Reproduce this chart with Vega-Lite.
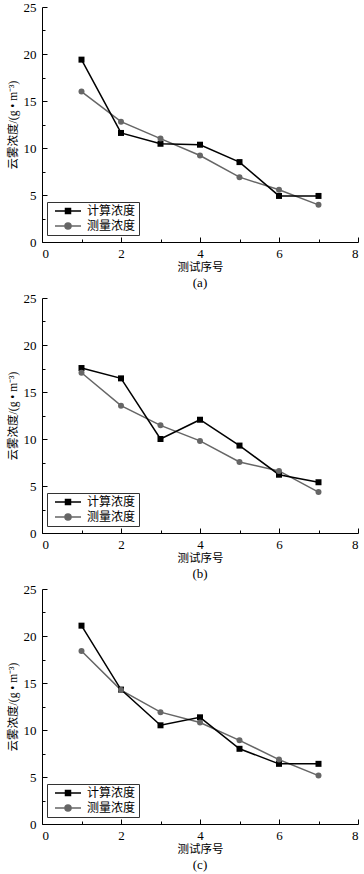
{
  "$schema": "https://vega.github.io/schema/vega-lite/v6.json",
  "background": "white",
  "padding": {"left": 7, "top": 1, "right": 0, "bottom": 0},
  "spacing": 2,
  "config": {
    "view": {"stroke": null},
    "font": "Liberation Serif",
    "axis": {
      "grid": false,
      "domainColor": "#000",
      "domainWidth": 1,
      "tickColor": "#000",
      "labelFont": "Liberation Serif",
      "labelFontSize": 13,
      "labelColor": "#000",
      "titleFont": "Liberation Serif, Noto Sans CJK SC",
      "titleFontSize": 11.5,
      "titleFontWeight": "normal",
      "titleColor": "#000"
    },
    "axisX": {"labelPadding": 10, "titlePadding": 1},
    "axisY": {"labelPadding": 11, "titlePadding": 5},
    "title": {"font": "Liberation Serif", "fontSize": 13, "fontWeight": "normal", "color": "#000", "orient": "bottom", "offset": 4},
    "legend": {
      "orient": "none",
      "legendX": 5,
      "legendY": 195,
      "strokeColor": "#333",
      "padding": 3,
      "labelFont": "Liberation Serif, Noto Sans CJK SC",
      "labelFontSize": 12,
      "labelColor": "#000",
      "labelOffset": 25,
      "symbolSize": 100,
      "rowPadding": 3,
      "symbolStrokeWidth": 1.5
    }
  },
  "datasets": {
    "a": [
      {"n": 1, "s": "测量浓度", "v": 16.0}, {"n": 2, "s": "测量浓度", "v": 12.8}, {"n": 3, "s": "测量浓度", "v": 11.0}, {"n": 4, "s": "测量浓度", "v": 9.2}, {"n": 5, "s": "测量浓度", "v": 6.9}, {"n": 6, "s": "测量浓度", "v": 5.55}, {"n": 7, "s": "测量浓度", "v": 3.95},
      {"n": 1, "s": "计算浓度", "v": 19.4}, {"n": 2, "s": "计算浓度", "v": 11.6}, {"n": 3, "s": "计算浓度", "v": 10.45}, {"n": 4, "s": "计算浓度", "v": 10.35}, {"n": 5, "s": "计算浓度", "v": 8.5}, {"n": 6, "s": "计算浓度", "v": 4.9}, {"n": 7, "s": "计算浓度", "v": 4.9}
    ],
    "b": [
      {"n": 1, "s": "测量浓度", "v": 17.05}, {"n": 2, "s": "测量浓度", "v": 13.55}, {"n": 3, "s": "测量浓度", "v": 11.45}, {"n": 4, "s": "测量浓度", "v": 9.8}, {"n": 5, "s": "测量浓度", "v": 7.55}, {"n": 6, "s": "测量浓度", "v": 6.6}, {"n": 7, "s": "测量浓度", "v": 4.35},
      {"n": 1, "s": "计算浓度", "v": 17.55}, {"n": 2, "s": "计算浓度", "v": 16.45}, {"n": 3, "s": "计算浓度", "v": 10.0}, {"n": 4, "s": "计算浓度", "v": 12.05}, {"n": 5, "s": "计算浓度", "v": 9.3}, {"n": 6, "s": "计算浓度", "v": 6.2}, {"n": 7, "s": "计算浓度", "v": 5.4}
    ],
    "c": [
      {"n": 1, "s": "测量浓度", "v": 18.4}, {"n": 2, "s": "测量浓度", "v": 14.25}, {"n": 3, "s": "测量浓度", "v": 11.9}, {"n": 4, "s": "测量浓度", "v": 10.8}, {"n": 5, "s": "测量浓度", "v": 8.9}, {"n": 6, "s": "测量浓度", "v": 6.85}, {"n": 7, "s": "测量浓度", "v": 5.15},
      {"n": 1, "s": "计算浓度", "v": 21.1}, {"n": 2, "s": "计算浓度", "v": 14.3}, {"n": 3, "s": "计算浓度", "v": 10.5}, {"n": 4, "s": "计算浓度", "v": 11.35}, {"n": 5, "s": "计算浓度", "v": 8.0}, {"n": 6, "s": "计算浓度", "v": 6.4}, {"n": 7, "s": "计算浓度", "v": 6.4}
    ]
  },
  "vconcat": [
    {
      "data": {"name": "a"},
      "width": 316, "height": 235,
      "title": {"text": "(a)"},
      "encoding": {
        "x": {"field": "n", "type": "quantitative", "scale": {"domain": [0, 8], "nice": false},
              "axis": {"title": "测试序号", "values": [0,1,2,3,4,5,6,7,8], "labelExpr": "datum.value % 2 === 0 ? datum.label : ''", "tickSize": {"condition": {"test": "datum.value % 2 === 0", "value": -5}, "value": -3}}},
        "y": {"field": "v", "type": "quantitative", "scale": {"domain": [0, 25], "nice": false},
              "axis": {"title": "云雾浓度/(g • m⁻³)", "values": [0,2.5,5,7.5,10,12.5,15,17.5,20,22.5,25], "labelExpr": "datum.value % 5 === 0 ? datum.label : ''", "tickSize": {"condition": {"test": "datum.value % 5 === 0", "value": -5}, "value": -3}}},
        "color": {"field": "s", "type": "nominal", "scale": {"domain": ["计算浓度", "测量浓度"], "range": ["#000000", "#666666"]},
                  "legend": {"title": null, "encode": {"symbols": {"update": {
                    "shape": {"signal": "datum.value === '计算浓度' ? 'M-0.2,0H5M1.9,-0.5H2.9V0.5H1.9Z' : 'M-0.2,0H5M3,0A0.6,0.6,0,1,1,1.8,0A0.6,0.6,0,1,1,3,0Z'"},
                    "size": {"value": 100},
                    "fill": {"signal": "datum.value === '计算浓度' ? '#000' : '#666'"},
                    "stroke": {"signal": "datum.value === '计算浓度' ? '#000' : '#777'"},
                    "strokeWidth": {"value": 1.5}, "opacity": {"value": 1}, "fillOpacity": {"value": 1}, "strokeOpacity": {"value": 1}}}}}}
      },
      "layer": [
        {"mark": {"type": "line", "strokeWidth": 1.5}, "encoding": {"detail": {"field": "s"}}},
        {"transform": [{"filter": "datum.s === '计算浓度'"}], "mark": {"type": "point", "shape": "square", "filled": true, "opacity": 1, "size": 36}},
        {"transform": [{"filter": "datum.s === '测量浓度'"}], "mark": {"type": "point", "shape": "circle", "filled": true, "opacity": 1, "size": 36}}
      ]
    },
    {
      "data": {"name": "b"},
      "width": 316, "height": 235,
      "title": {"text": "(b)"},
      "encoding": {
        "x": {"field": "n", "type": "quantitative", "scale": {"domain": [0, 8], "nice": false},
              "axis": {"title": "测试序号", "values": [0,1,2,3,4,5,6,7,8], "labelExpr": "datum.value % 2 === 0 ? datum.label : ''", "tickSize": {"condition": {"test": "datum.value % 2 === 0", "value": -5}, "value": -3}}},
        "y": {"field": "v", "type": "quantitative", "scale": {"domain": [0, 25], "nice": false},
              "axis": {"title": "云雾浓度/(g • m⁻³)", "values": [0,2.5,5,7.5,10,12.5,15,17.5,20,22.5,25], "labelExpr": "datum.value % 5 === 0 ? datum.label : ''", "tickSize": {"condition": {"test": "datum.value % 5 === 0", "value": -5}, "value": -3}}},
        "color": {"field": "s", "type": "nominal", "scale": {"domain": ["计算浓度", "测量浓度"], "range": ["#000000", "#666666"]},
                  "legend": {"title": null, "encode": {"symbols": {"update": {
                    "shape": {"signal": "datum.value === '计算浓度' ? 'M-0.2,0H5M1.9,-0.5H2.9V0.5H1.9Z' : 'M-0.2,0H5M3,0A0.6,0.6,0,1,1,1.8,0A0.6,0.6,0,1,1,3,0Z'"},
                    "size": {"value": 100},
                    "fill": {"signal": "datum.value === '计算浓度' ? '#000' : '#666'"},
                    "stroke": {"signal": "datum.value === '计算浓度' ? '#000' : '#777'"},
                    "strokeWidth": {"value": 1.5}, "opacity": {"value": 1}, "fillOpacity": {"value": 1}, "strokeOpacity": {"value": 1}}}}}}
      },
      "layer": [
        {"mark": {"type": "line", "strokeWidth": 1.5}, "encoding": {"detail": {"field": "s"}}},
        {"transform": [{"filter": "datum.s === '计算浓度'"}], "mark": {"type": "point", "shape": "square", "filled": true, "opacity": 1, "size": 36}},
        {"transform": [{"filter": "datum.s === '测量浓度'"}], "mark": {"type": "point", "shape": "circle", "filled": true, "opacity": 1, "size": 36}}
      ]
    },
    {
      "data": {"name": "c"},
      "width": 316, "height": 235,
      "title": {"text": "(c)"},
      "encoding": {
        "x": {"field": "n", "type": "quantitative", "scale": {"domain": [0, 8], "nice": false},
              "axis": {"title": "测试序号", "values": [0,1,2,3,4,5,6,7,8], "labelExpr": "datum.value % 2 === 0 ? datum.label : ''", "tickSize": {"condition": {"test": "datum.value % 2 === 0", "value": -5}, "value": -3}}},
        "y": {"field": "v", "type": "quantitative", "scale": {"domain": [0, 25], "nice": false},
              "axis": {"title": "云雾浓度/(g • m⁻³)", "values": [0,2.5,5,7.5,10,12.5,15,17.5,20,22.5,25], "labelExpr": "datum.value % 5 === 0 ? datum.label : ''", "tickSize": {"condition": {"test": "datum.value % 5 === 0", "value": -5}, "value": -3}}},
        "color": {"field": "s", "type": "nominal", "scale": {"domain": ["计算浓度", "测量浓度"], "range": ["#000000", "#666666"]},
                  "legend": {"title": null, "encode": {"symbols": {"update": {
                    "shape": {"signal": "datum.value === '计算浓度' ? 'M-0.2,0H5M1.9,-0.5H2.9V0.5H1.9Z' : 'M-0.2,0H5M3,0A0.6,0.6,0,1,1,1.8,0A0.6,0.6,0,1,1,3,0Z'"},
                    "size": {"value": 100},
                    "fill": {"signal": "datum.value === '计算浓度' ? '#000' : '#666'"},
                    "stroke": {"signal": "datum.value === '计算浓度' ? '#000' : '#777'"},
                    "strokeWidth": {"value": 1.5}, "opacity": {"value": 1}, "fillOpacity": {"value": 1}, "strokeOpacity": {"value": 1}}}}}}
      },
      "layer": [
        {"mark": {"type": "line", "strokeWidth": 1.5}, "encoding": {"detail": {"field": "s"}}},
        {"transform": [{"filter": "datum.s === '计算浓度'"}], "mark": {"type": "point", "shape": "square", "filled": true, "opacity": 1, "size": 36}},
        {"transform": [{"filter": "datum.s === '测量浓度'"}], "mark": {"type": "point", "shape": "circle", "filled": true, "opacity": 1, "size": 36}}
      ]
    }
  ],
  "resolve": {"scale": {"color": "independent"}, "legend": {"color": "independent"}}
}
